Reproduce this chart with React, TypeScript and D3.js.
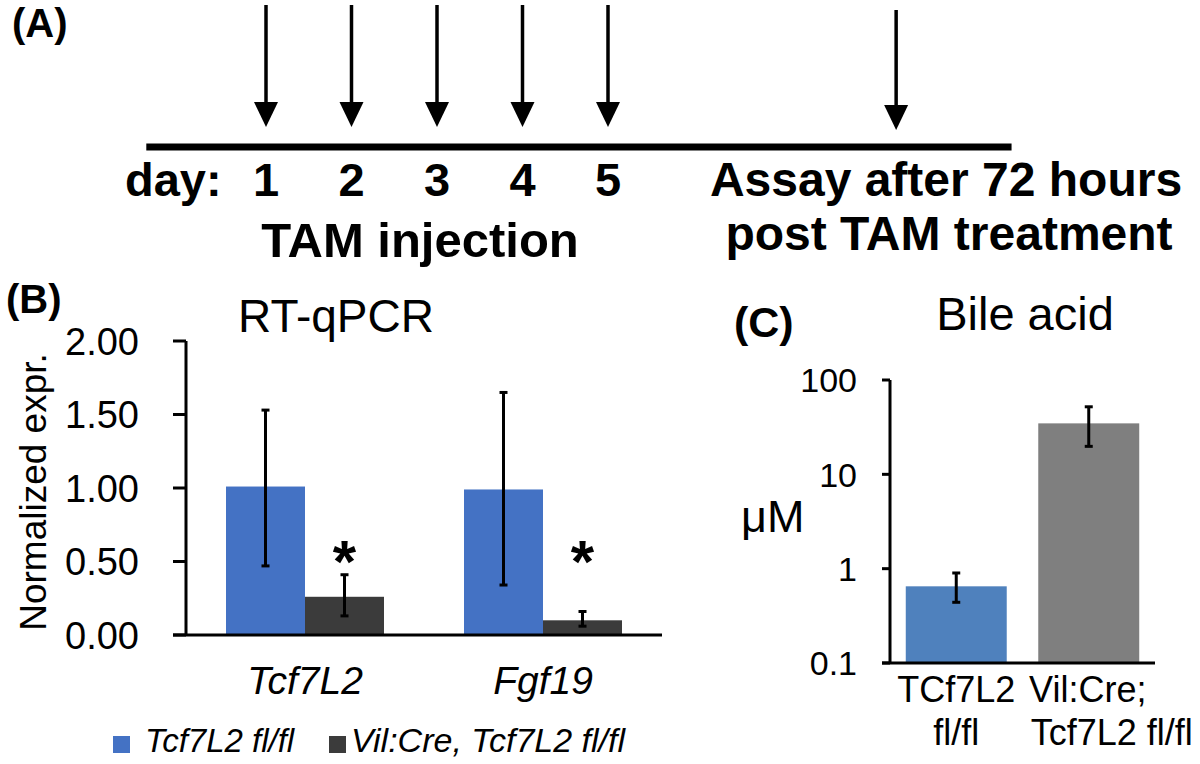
import React from "react";
import * as d3 from "d3";

// ---------- Panel A data ----------
const injectionDays = [1, 2, 3, 4, 5];
const dayLabels = ["1", "2", "3", "4", "5"];
const assayDay = 8.37;
const timelineStart = -0.4;
const timelineEnd = 9.72;

// ---------- Panel B data ----------
const genes = ["Tcf7L2", "Fgf19"];
const groupsB = ["Tcf7L2 fl/fl", "Vil:Cre, Tcf7L2 fl/fl"];
const controlMean = [1.01, 0.99];
const controlLow = [0.47, 0.34];
const controlHigh = [1.53, 1.65];
const creMean = [0.26, 0.1];
const creLow = [0.13, 0.06];
const creHigh = [0.41, 0.16];
const bTicks = [0, 0.5, 1, 1.5, 2];

// ---------- Panel C data ----------
const cLine1 = ["TCf7L2", "Vil:Cre;"];
const cLine2 = ["fl/fl", "Tcf7L2 fl/fl"];
const cMean = [0.65, 34.7];
const cLow = [0.44, 19.8];
const cHigh = [0.9, 52];
const cTicks = [0.1, 1, 10, 100];

const FONT = "'Liberation Sans', Arial, Helvetica, sans-serif";
const BLUE_B = "#4472C4";
const DARK_B = "#3b3b3b";
const BLUE_C = "#4F81BD";
const GRAY_C = "#7F7F7F";

function ErrorBar({ x, y1, y2, cap = 4 }: { x: number; y1: number; y2: number; cap?: number }) {
  return (
    <g stroke="#000" strokeWidth={3}>
      <line x1={x} x2={x} y1={y1} y2={y2} />
      <line x1={x - cap} x2={x + cap} y1={y1} y2={y1} />
      <line x1={x - cap} x2={x + cap} y1={y2} y2={y2} />
    </g>
  );
}

export default function App() {
  // Panel A
  const xA = d3.scaleLinear().domain([1, 5]).range([266, 608]);
  const lineY = 147;
  const arrow = (d: number, top: number, tip: number) => {
    const x = xA(d);
    const p = d3.path();
    p.moveTo(x - 12, tip - 25);
    p.lineTo(x + 12, tip - 25);
    p.lineTo(x, tip);
    p.closePath();
    return (
      <g key={"a" + d}>
        <line x1={x} x2={x} y1={top} y2={tip - 20} stroke="#000" strokeWidth={3.5} />
        <path d={p.toString()} fill="#000" />
      </g>
    );
  };

  // Panel B
  const xB = d3.scaleBand().domain(genes).range([186, 662]).paddingInner(80 / 238).paddingOuter(40 / 238);
  const xSub = d3.scaleBand().domain(groupsB).range([0, xB.bandwidth()]);
  const yB = d3.scaleLinear().domain([0, 2]).range([635, 341]);
  const bw = xSub.bandwidth();

  // Panel C
  const xC = d3.scaleBand().domain(["0", "1"]).range([890, 1155]).paddingInner(0.238).paddingOuter(0.119);
  const yC = d3.scaleLog().domain([0.1, 100]).range([663, 380]);

  return (
    <svg width={1200} height={764} style={{ position: "absolute", left: 0, top: 0, background: "#fff" }} fontFamily={FONT}>
      <rect width={1200} height={764} fill="#fff" />
      {/* ---------------- Panel A ---------------- */}
      <text x={12} y={37} fontSize={40} fontWeight="bold">(A)</text>
      {injectionDays.map((d) => arrow(d, 5, 127))}
      {arrow(assayDay, 10, 130)}
      <line x1={xA(timelineStart)} x2={xA(timelineEnd)} y1={lineY} y2={lineY} stroke="#000" strokeWidth={7} />
      <text x={125} y={196} fontSize={47} fontWeight="bold">day:</text>
      {dayLabels.map((l, i) => (
        <text key={l} x={xA(injectionDays[i])} y={196} fontSize={47} fontWeight="bold" textAnchor="middle">{l}</text>
      ))}
      <text x={420} y={257} fontSize={49} fontWeight="bold" textAnchor="middle">TAM injection</text>
      <text x={946} y={196} fontSize={48} fontWeight="bold" textAnchor="middle">Assay after 72 hours</text>
      <text x={949} y={250} fontSize={48} fontWeight="bold" textAnchor="middle">post TAM treatment</text>

      {/* ---------------- Panel B ---------------- */}
      <text x={6} y={313} fontSize={40} fontWeight="bold">(B)</text>
      <text x={336} y={332} fontSize={46} textAnchor="middle">RT-qPCR</text>
      <text transform={`translate(46,${(yB(0) + yB(2)) / 2 + 4}) rotate(-90)`} fontSize={37} textAnchor="middle">Normalized expr.</text>
      {bTicks.map((t) => (
        <g key={t}>
          <line x1={173} x2={186} y1={yB(t)} y2={yB(t)} stroke="#000" strokeWidth={3} />
          <text x={139} y={yB(t)} dy="0.36em" fontSize={38} textAnchor="end">{t.toFixed(2)}</text>
        </g>
      ))}
      {genes.map((g, i) => {
        const x0 = xB(g)!;
        const xc = x0 + xSub(groupsB[0])!;
        const xd = x0 + xSub(groupsB[1])!;
        return (
          <g key={g}>
            <rect x={xc} y={yB(controlMean[i])} width={bw} height={yB(0) - yB(controlMean[i])} fill={BLUE_B} />
            <rect x={xd} y={yB(creMean[i])} width={bw} height={yB(0) - yB(creMean[i])} fill={DARK_B} />
            <ErrorBar x={xc + bw / 2} y1={yB(controlHigh[i])} y2={yB(controlLow[i])} />
            <ErrorBar x={xd + bw / 2} y1={yB(creHigh[i])} y2={yB(creLow[i])} />
            <text x={xd + bw / 2} y={582} fontSize={60} fontWeight="bold" textAnchor="middle">*</text>
            <text x={x0 + xB.bandwidth() / 2} y={694} fontSize={39} fontStyle="italic" textAnchor="middle">{g}</text>
          </g>
        );
      })}
      <line x1={186} x2={186} y1={yB(2)} y2={yB(0)} stroke="#000" strokeWidth={3} />
      <line x1={173} x2={662} y1={yB(0)} y2={yB(0)} stroke="#000" strokeWidth={3} />
      {/* legend */}
      <rect x={113} y={736} width={17} height={17} fill={BLUE_B} />
      <text x={145} y={752} fontSize={33} fontStyle="italic">{groupsB[0]}</text>
      <rect x={329} y={736} width={17} height={17} fill={DARK_B} />
      <text x={351} y={752} fontSize={34} fontStyle="italic">{groupsB[1]}</text>

      {/* ---------------- Panel C ---------------- */}
      <text x={734} y={337} fontSize={43} fontWeight="bold">(C)</text>
      <text x={1025} y={330} fontSize={47} textAnchor="middle">Bile acid</text>
      <text x={741} y={532} fontSize={45}>μM</text>
      {cTicks.map((t) => (
        <g key={t}>
          <line x1={882} x2={890} y1={yC(t)} y2={yC(t)} stroke="#000" strokeWidth={3} />
          <text x={857} y={yC(t)} dy="0.36em" fontSize={34} textAnchor="end">{String(t)}</text>
        </g>
      ))}
      {cMean.map((v, i) => {
        const x0 = xC(String(i))!;
        const w = xC.bandwidth();
        return (
          <g key={i}>
            <rect x={x0} y={yC(v)} width={w} height={yC(0.1) - yC(v)} fill={i === 0 ? BLUE_C : GRAY_C} />
            <ErrorBar x={x0 + w / 2} y1={yC(cHigh[i])} y2={yC(cLow[i])} />
            <text x={x0 + w / 2 + (i === 1 ? -1 : 0)} y={702} fontSize={36} textAnchor="middle">{cLine1[i]}</text>
            <text x={x0 + w / 2 + (i === 1 ? 23 : 0)} y={745} fontSize={36} textAnchor="middle">{cLine2[i]}</text>
          </g>
        );
      })}
      <line x1={890} x2={890} y1={yC(100)} y2={yC(0.1)} stroke="#000" strokeWidth={3} />
      <line x1={882} x2={1155} y1={yC(0.1)} y2={yC(0.1)} stroke="#000" strokeWidth={3} />
    </svg>
  );
}
